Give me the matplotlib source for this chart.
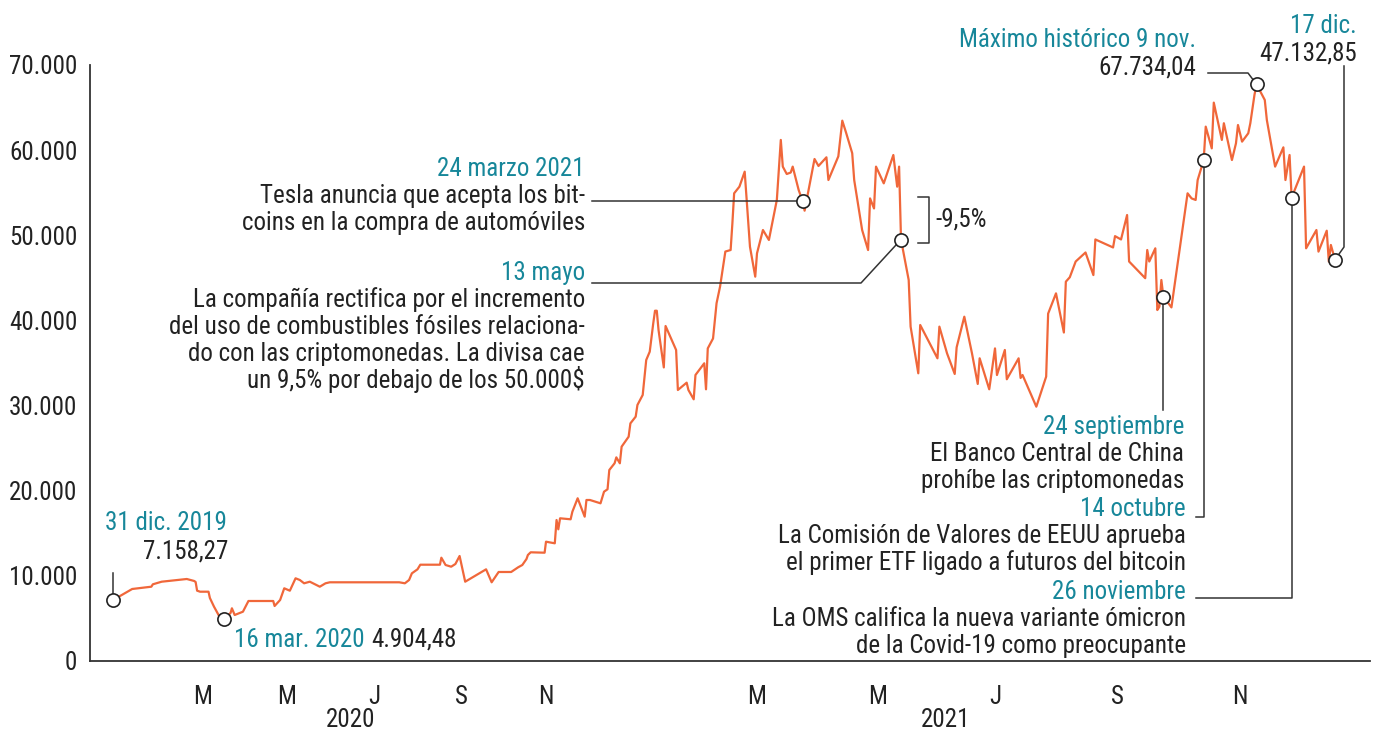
import matplotlib
matplotlib.use('Agg')
import matplotlib.pyplot as plt
import matplotlib.dates as mdates
import numpy as np

# Precio del bitcoin (USD)
fechas = [
    '2019-12-31', '2020-01-13', '2020-01-26', '2020-01-27', '2020-02-02', '2020-02-19',
    '2020-02-24', '2020-02-25', '2020-02-26', '2020-02-28', '2020-03-05', '2020-03-06',
    '2020-03-09', '2020-03-13', '2020-03-16', '2020-03-21', '2020-03-22', '2020-03-24',
    '2020-03-30', '2020-04-03', '2020-04-21', '2020-04-22', '2020-04-26', '2020-04-29',
    '2020-05-03', '2020-05-07', '2020-05-10', '2020-05-13', '2020-05-17', '2020-05-24',
    '2020-05-28', '2020-05-31', '2020-07-19', '2020-07-23', '2020-07-26', '2020-07-28',
    '2020-08-01', '2020-08-03', '2020-08-17', '2020-08-18', '2020-08-21', '2020-08-25',
    '2020-08-28', '2020-08-31', '2020-09-04', '2020-09-19', '2020-09-23', '2020-09-28',
    '2020-10-07', '2020-10-12', '2020-10-15', '2020-10-18', '2020-10-19', '2020-10-21',
    '2020-10-31', '2020-11-01', '2020-11-06', '2020-11-07', '2020-11-08', '2020-11-09',
    '2020-11-15', '2020-11-16', '2020-11-19', '2020-11-23', '2020-11-24', '2020-11-26',
    '2020-12-02', '2020-12-04', '2020-12-06', '2020-12-07', '2020-12-10', '2020-12-11',
    '2020-12-13', '2020-12-14', '2020-12-18', '2020-12-19', '2020-12-22', '2020-12-23',
    '2020-12-26', '2020-12-28', '2020-12-30', '2021-01-01', '2021-01-02', '2021-01-03',
    '2021-01-04', '2021-01-07', '2021-01-08', '2021-01-14', '2021-01-15', '2021-01-20',
    '2021-01-21', '2021-01-24', '2021-01-25', '2021-01-30', '2021-01-31', '2021-02-01',
    '2021-02-04', '2021-02-06', '2021-02-08', '2021-02-11', '2021-02-14', '2021-02-15',
    '2021-02-16', '2021-02-19', '2021-02-22', '2021-02-25', '2021-02-28', '2021-03-01',
    '2021-03-04', '2021-03-07', '2021-03-11', '2021-03-13', '2021-03-14', '2021-03-16',
    '2021-03-18', '2021-03-19', '2021-03-22', '2021-03-24', '2021-03-25', '2021-03-27',
    '2021-03-30', '2021-04-01', '2021-04-05', '2021-04-06', '2021-04-11', '2021-04-13',
    '2021-04-15', '2021-04-18', '2021-04-19', '2021-04-23', '2021-04-26', '2021-04-27',
    '2021-04-29', '2021-04-30', '2021-05-04', '2021-05-09', '2021-05-11', '2021-05-12',
    '2021-05-13', '2021-05-17', '2021-05-18', '2021-05-22', '2021-05-23', '2021-06-01',
    '2021-06-02', '2021-06-06', '2021-06-10', '2021-06-11', '2021-06-15', '2021-06-19',
    '2021-06-22', '2021-06-23', '2021-06-28', '2021-07-01', '2021-07-02', '2021-07-06',
    '2021-07-07', '2021-07-13', '2021-07-14', '2021-07-15', '2021-07-22', '2021-07-27',
    '2021-07-28', '2021-08-01', '2021-08-05', '2021-08-06', '2021-08-08', '2021-08-11',
    '2021-08-16', '2021-08-20', '2021-08-21', '2021-08-30', '2021-08-31', '2021-09-03',
    '2021-09-06', '2021-09-07', '2021-09-15', '2021-09-16', '2021-09-17', '2021-09-20',
    '2021-09-21', '2021-09-22', '2021-09-23', '2021-09-24', '2021-09-28', '2021-10-06',
    '2021-10-08', '2021-10-10', '2021-10-11', '2021-10-14', '2021-10-15', '2021-10-18',
    '2021-10-19', '2021-10-23', '2021-10-24', '2021-10-28', '2021-10-30', '2021-10-31',
    '2021-11-02', '2021-11-05', '2021-11-06', '2021-11-08', '2021-11-09', '2021-11-13',
    '2021-11-14', '2021-11-18', '2021-11-22', '2021-11-23', '2021-11-25', '2021-11-26',
    '2021-12-02', '2021-12-03', '2021-12-08', '2021-12-09', '2021-12-13', '2021-12-14',
    '2021-12-15', '2021-12-17',
]
precios = [
    7158, 8457, 8727, 9008, 9314, 9631,
    9400, 9280, 8260, 8140, 8140, 7400,
    6380, 5200, 4904, 5638, 6190, 5403,
    5790, 7047, 7047, 6460, 7165, 8539,
    8257, 9713, 9514, 9126, 9314, 8727,
    9126, 9244, 9244, 9126, 9514, 10298,
    10768, 11310, 11310, 12133, 11275, 11075,
    11393, 12333, 9314, 10768, 9244, 10454,
    10454, 11005, 11275, 11980, 12450, 12767,
    12720, 14012, 13823, 16560, 15467, 16760,
    16643, 17535, 19110, 16950, 18910, 18910,
    18520, 19884, 20170, 22433, 23220, 23917,
    23220, 25170, 26345, 27910, 28697, 30070,
    31245, 35352, 36330, 39670, 41140, 41140,
    38875, 34480, 39347, 36528, 31830, 32690,
    31830, 30735, 33590, 34966, 31910, 36715,
    37880, 42020, 43980, 48090, 48270, 51400,
    54930, 55710, 57470, 48660, 45140, 47880,
    50620, 49450, 54150, 61200, 58065, 57200,
    57370, 58065, 55320, 54000, 52890, 55320,
    58960, 58140, 59160, 56490, 59270, 63460,
    61980, 59640, 56490, 50620, 48270, 54330,
    53150, 58065, 56100, 59430, 55710, 58065,
    49500, 44750, 39270, 33790, 39465, 35550,
    39270, 36130, 33710, 36840, 40440, 36130,
    32540, 35550, 31910, 36715, 33590, 36528,
    33090, 35550, 33240, 33590, 29870, 33400,
    40800, 43180, 38580, 44550, 45070, 46920,
    47980, 45330, 49510, 48570, 49900, 49510,
    52380, 46920, 44960, 48270, 46920, 48470,
    41220, 41600, 44750, 42800, 41530, 54930,
    54330, 54150, 56490, 58840, 62760, 60210,
    65580, 61200, 63160, 58840, 60800, 62950,
    61000, 61980, 63160, 66480, 67734, 65890,
    63540, 58065, 60330, 56490, 59430, 54420,
    58065, 48470, 50620, 48080, 50540, 46920,
    48860, 47133,
]

# Eje X: marcas de mes y años
meses_ticks = ['2020-03-01', '2020-05-01', '2020-07-01', '2020-09-01', '2020-11-01',
               '2021-03-01', '2021-05-01', '2021-07-01', '2021-09-01', '2021-11-01']
meses_labels = ['M', 'M', 'J', 'S', 'N', 'M', 'M', 'J', 'S', 'N']
anios = ['2020', '2021']

# Eje Y
y_ticks = [0, 10000, 20000, 30000, 40000, 50000, 60000, 70000]
y_labels = ['0', '10.000', '20.000', '30.000', '40.000', '50.000', '60.000', '70.000']

# Fechas destacadas (marcadores)
eventos = ['2019-12-31', '2020-03-16', '2021-03-24', '2021-05-13',
           '2021-09-24', '2021-10-14', '2021-11-09', '2021-11-26', '2021-12-17']

NARANJA = '#f0673a'
TEAL = '#17879a'
NEGRO = '#222222'
GRIS = '#333333'

plt.rcParams['font.family'] = ['Roboto Condensed', 'Roboto', 'DejaVu Sans']
FS = 18

# escala del eje x: tramos lineales (el original no es uniforme en el tiempo)
anclas_fecha = mdates.datestr2num(['2019-11-01', '2019-12-31', '2020-03-01', '2020-05-01',
                                   '2020-07-01', '2020-09-01', '2020-11-01', '2021-03-01',
                                   '2021-05-01', '2021-07-01', '2021-09-01', '2021-11-01',
                                   '2021-12-17', '2022-02-01'])
anclas_px = np.array([24.5, 113, 203, 287, 374, 461, 546, 757, 878, 995, 1117, 1240, 1335, 1430])


def fwd(v):
    return np.interp(v, anclas_fecha, anclas_px)


def inv(p):
    return np.interp(p, anclas_px, anclas_fecha)


W, H = 1373, 735
fig = plt.figure(figsize=(W / 100, H / 100), dpi=100)
ax = fig.add_axes([90 / W, (H - 661) / H, 1280 / W, 596 / H])
ax.set_xscale('function', functions=(fwd, inv))
ax.set_xlim(inv(90), inv(1370))
ax.set_ylim(0, 70000)


def P(xp, yp):
    # posición de maquetación (px de la imagen) -> coordenadas de datos
    return float(inv(xp)), (661 - yp) / 596 * 70000


x = mdates.datestr2num(fechas)
ax.plot(x, precios, color=NARANJA, lw=1.6, zorder=2)

ex = mdates.datestr2num(eventos)
ey = np.interp(ex, x, precios)
ax.plot(ex, ey, 'o', ms=9.5, mfc='white', mec=NEGRO, mew=1.2, zorder=4, clip_on=False)


def linea(puntos):
    xs = [p[0] for p in puntos]
    ys = [p[1] for p in puntos]
    ax.plot(xs, ys, color=GRIS, lw=1.1, zorder=3, clip_on=False)


def texto(xp, yp, s, color=NEGRO, ha='right'):
    xd, yd = P(xp, yp)
    ax.text(xd, yd, s, color=color, ha=ha, va='baseline', fontsize=FS, clip_on=False)


def bloque(xp, yp, teal, negro, paso=27):
    for i, s in enumerate(teal):
        texto(xp, yp + i * paso, s, TEAL)
    for j, s in enumerate(negro):
        texto(xp, yp + (len(teal) + j) * paso, s, NEGRO)


# 31 dic. 2019
texto(105, 530, '31 dic. 2019', TEAL, ha='left')
texto(228, 558, '7.158,27')
linea([P(113, 573), (ex[0], ey[0])])

# 16 mar. 2020
texto(234, 647, '16 mar. 2020', TEAL, ha='left')
texto(371, 647, '4.904,48', ha='left')

# Tesla
bloque(585, 176, ['24 marzo 2021'], ['Tesla anuncia que acepta los bit-',
                                     'coins en la compra de automóviles'])
linea([(P(592, 0)[0], ey[2]), (ex[2], ey[2])])

# 13 mayo
bloque(585, 280, ['13 mayo'], ['La compañía rectifica por el incremento',
                               'del uso de combustibles fósiles relaciona-',
                               'do con las criptomonedas. La divisa cae',
                               'un 9,5% por debajo de los 50.000$'])
linea([P(592, 283), P(861, 283), (ex[3], ey[3])])

# -9,5%
linea([P(918, 197), P(929, 197), P(929, 243), P(918, 243)])
texto(935, 226, '-9,5%', ha='left')

# 24 septiembre
bloque(1184, 434, ['24 septiembre'], ['El Banco Central de China', 'prohíbe las criptomonedas'])
linea([(ex[4], P(0, 410)[1]), (ex[4], ey[4])])

# 14 octubre
bloque(1186, 516, ['14 octubre'], ['La Comisión de Valores de EEUU aprueba',
                                   'el primer ETF ligado a futuros del bitcoin'])
linea([P(1196, 517), (ex[5], P(0, 517)[1]), (ex[5], ey[5])])

# 26 noviembre
bloque(1186, 599, ['26 noviembre'], ['La OMS califica la nueva variante ómicron',
                                     'de la Covid-19 como preocupante'])
linea([P(1196, 598), (ex[7], P(0, 598)[1]), (ex[7], ey[7])])

# Máximo histórico
texto(1196, 47, 'Máximo histórico 9 nov.', TEAL)
texto(1196, 75, '67.734,04')
linea([P(1208, 73), P(1248, 73), (ex[6], ey[6])])

# 17 dic.
texto(1357, 33, '17 dic.', TEAL)
texto(1357, 60, '47.132,85')
linea([(ex[8], ey[8]), P(1344, 247), P(1344, 66)])

# ejes
ax.set_xticks(mdates.datestr2num(meses_ticks))
ax.set_xticklabels(meses_labels)
ax.set_yticks(y_ticks)
ax.set_yticklabels(y_labels)
ax.tick_params(axis='both', length=0, labelsize=FS, labelcolor=NEGRO)
ax.tick_params(axis='x', pad=17)
ax.tick_params(axis='y', pad=9)
ax.xaxis.set_minor_locator(matplotlib.ticker.NullLocator())
for s in ['top', 'right']:
    ax.spines[s].set_visible(False)
for s in ['left', 'bottom']:
    ax.spines[s].set_color(GRIS)
    ax.spines[s].set_linewidth(1.3)

texto(351, 727, anios[0], ha='center')
texto(946, 727, anios[1], ha='center')

fig.savefig('out.png', dpi=100)
